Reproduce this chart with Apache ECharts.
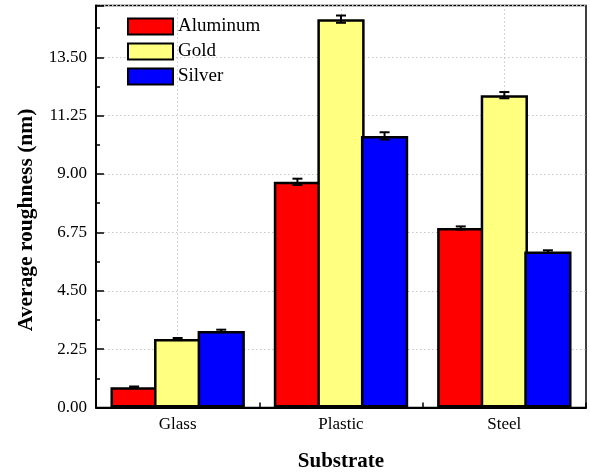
<!DOCTYPE html>
<html>
<head>
<meta charset="utf-8">
<script src="https://cdn.jsdelivr.net/npm/echarts@6/dist/echarts.min.js"></script>
<style>
  html, body { margin: 0; padding: 0; background: #fff; }
  #chart { width: 590px; height: 472px; }
</style>
</head>
<body>
<div id="chart"></div>
<script>
// Substrates and coating metals
const substrates = ['Glass', 'Plastic', 'Steel'];
const metals = ['Aluminum', 'Gold', 'Silver'];

// Average roughness (nm) per substrate
const aluminum = [0.78, 8.70, 6.92];
const gold = [2.64, 14.97, 12.04];
const silver = [2.95, 10.47, 6.01];

// Standard deviations (nm)
const aluminumErr = [0.03, 0.12, 0.06];
const goldErr = [0.04, 0.14, 0.12];
const silverErr = [0.05, 0.14, 0.05];

// Y axis layout values
const yMax = 15.5;
const yMajor = 2.25;
const yMinor = 1.125;

const FONT = 'Liberation Serif';
const colors = ['#ff0000', '#ffff80', '#0000ff'];
const values = [aluminum, gold, silver];
const errors = [aluminumErr, goldErr, silverErr];
const BAR_WIDTH = 0.2893;  // bar width as share of the category band
const BAR_GAP = -0.078;    // neighbouring bars overlap so their outlines merge

const chart = echarts.init(document.getElementById('chart'), null, { renderer: 'canvas' });

function errorBars(idx) {
  return function (params, api) {
    const xi = api.value(0);
    const v = api.value(1);
    const e = api.value(2);
    const c = api.coord([xi, v]);
    const band = api.size([1, 0])[0];
    const step = band * BAR_WIDTH * (1 + BAR_GAP);
    const x = c[0] + (idx - (metals.length - 1) / 2) * step;
    const hi = api.coord([xi, v + e])[1];
    const lo = api.coord([xi, v - e])[1];
    const half = 5;
    const st = { stroke: '#000', lineWidth: 2 };
    return {
      type: 'group',
      children: [
        { type: 'line', shape: { x1: x, y1: hi, x2: x, y2: lo }, style: st },
        { type: 'line', shape: { x1: x - half, y1: hi, x2: x + half, y2: hi }, style: st },
        { type: 'line', shape: { x1: x - half, y1: lo, x2: x + half, y2: lo }, style: st }
      ]
    };
  };
}

const series = [];
metals.forEach((m, i) => {
  series.push({
    name: m,
    type: 'bar',
    xAxisIndex: 0,
    yAxisIndex: 0,
    data: values[i],
    barWidth: (BAR_WIDTH * 100) + '%',
    barGap: (BAR_GAP * 100) + '%',
    itemStyle: { color: colors[i], borderColor: '#000', borderWidth: 2.5 },
    z: 2
  });
});
metals.forEach((m, i) => {
  series.push({
    name: m + ' error',
    type: 'custom',
    xAxisIndex: 0,
    yAxisIndex: 0,
    renderItem: errorBars(i),
    data: values[i].map((v, k) => [k, v, errors[i][k]]),
    z: 3,
    silent: true
  });
});

chart.setOption({
  animation: false,
  backgroundColor: '#fff',
  textStyle: { fontFamily: FONT },
  grid: {
    left: 96, right: 4, top: 5.4, bottom: 64.5,
    outerBoundsMode: 'none',
    containLabel: false,
    show: true, borderColor: '#000', borderWidth: 1.5
  },
  legend: {
    data: metals,
    orient: 'vertical',
    left: 127,
    top: 17,
    padding: 0,
    itemWidth: 45,
    itemHeight: 16,
    itemGap: 6,
    icon: 'rect',
    textStyle: { fontFamily: FONT, fontSize: 19, color: '#000' }
  },
  xAxis: [
    {
      type: 'category',
      data: substrates,
      position: 'bottom',
      name: 'Substrate',
      nameLocation: 'middle',
      nameGap: 44,
      nameTextStyle: { fontFamily: FONT, fontSize: 21, fontWeight: 'bold', color: '#000' },
      axisLine: { lineStyle: { color: '#000', width: 2 } },
      axisTick: { show: true, inside: true, length: 5, lineStyle: { color: '#000', width: 1.5 } },
      axisLabel: { fontFamily: FONT, fontSize: 17, color: '#000', margin: 9 },
      splitLine: { show: false }
    },
    {
      type: 'category',
      data: substrates,
      position: 'bottom',
      axisLine: { show: false },
      axisLabel: { show: false },
      axisTick: { show: true, inside: true, alignWithLabel: true, length: 8, lineStyle: { color: '#000', width: 1.5 } },
      splitLine: { show: true, alignWithLabel: true, lineStyle: { color: '#c8c8c8', type: [1.5, 2.5], width: 1 } }
    }
  ],
  yAxis: [
    {
      type: 'value',
      min: 0,
      max: yMax,
      interval: yMajor,
      position: 'left',
      name: 'Average roughness (nm)',
      nameLocation: 'middle',
      nameGap: 58,
      nameTextStyle: { fontFamily: FONT, fontSize: 21.5, fontWeight: 'bold', color: '#000', padding: [0, 27, 0, 0] },
      axisLine: { show: true, lineStyle: { color: '#000', width: 2 } },
      axisTick: { show: true, inside: true, length: 8, lineStyle: { color: '#000', width: 1.5 } },
      axisLabel: {
        fontFamily: FONT, fontSize: 17, color: '#000', margin: 9,
        formatter: v => (v > yMax - yMajor / 2 ? '' : v.toFixed(2))
      },
      splitLine: { show: true, lineStyle: { color: '#c8c8c8', type: [1.5, 2.5], width: 1 } }
    },
    {
      type: 'value',
      min: 0,
      max: yMax,
      interval: yMinor,
      position: 'left',
      axisLine: { show: false },
      axisLabel: { show: false },
      axisTick: { show: true, inside: true, length: 4, lineStyle: { color: '#000', width: 1.5 } },
      splitLine: { show: false }
    }
  ],
  series: series
});
</script>
</body>
</html>
